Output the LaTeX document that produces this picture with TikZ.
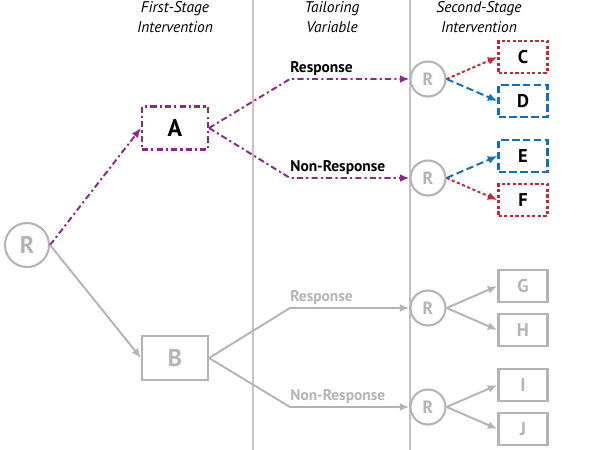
\documentclass[tikz,border=0pt]{standalone}
\usepackage{fontspec}
\setmainfont{PT Sans}
\usetikzlibrary{arrows, arrows.meta}
\usetikzlibrary{calc}

\definecolor{smartpurple}{RGB}{142,38,140}
\definecolor{smartred}{RGB}{200,38,48}
\definecolor{smartblue}{RGB}{16,112,184}
\definecolor{smartgray}{RGB}{180,180,180}
\definecolor{rulegray}{RGB}{196,196,196}

\begin{document}
\begin{tikzpicture}[x=0.02cm, y=-0.02cm,
    rand/.style={circle, draw=smartgray, line width=1.2pt, text=smartgray, inner sep=0pt, font=\bfseries},
    arm/.style={rectangle, draw, line width=1.2pt, inner sep=0pt, font=\bfseries},
    head/.style={align=center, font=\fontsize{8.8}{11}\selectfont\itshape},
    resp/.style={anchor=south west, inner xsep=0pt, inner ysep=1.5pt, font=\fontsize{8.8}{10}\selectfont\bfseries},
    tip/.style={-{Latex[length=5.5pt, width=4.5pt]}, line width=1.1pt},
    purple dash/.style={smartpurple, dash pattern=on 3.5pt off 1.8pt on 1.2pt off 1.8pt},
    red dash/.style={smartred, dash pattern=on 1.8pt off 1.4pt},
    blue dash/.style={smartblue, dash pattern=on 4.2pt off 2pt},
    gray line/.style={smartgray}]
  \useasboundingbox (0,0) rectangle (600,450);

  % stage columns
  \draw[rulegray, line width=0.9pt] (253,0) -- (253,450);
  \draw[rulegray, line width=0.9pt] (410,0) -- (410,450);
  \node[head] (h1) at (175,17) {First-Stage\\Intervention};
  \node[head] (h2) at (332,17) {Tailoring\\Variable};
  \node[head] (h3) at (479,17) {Second-Stage\\Intervention};

  % first randomisation
  \node[rand, minimum size=0.88cm, font=\fontsize{13.7}{14}\selectfont\bfseries] (r0) at (27,245) {R};
  \node[arm, purple dash, text=black, minimum width=1.32cm, minimum height=0.86cm, font=\fontsize{13.7}{14}\selectfont\bfseries] (A) at (175,128) {A};
  \node[arm, draw=smartgray, text=smartgray, minimum width=1.32cm, minimum height=0.88cm, font=\fontsize{13.7}{14}\selectfont\bfseries] (B) at (175,358) {B};

  % second randomisations
  \node[rand, minimum size=0.70cm, font=\fontsize{10}{10}\selectfont\bfseries] (r1) at (428,79) {R};
  \node[rand, minimum size=0.70cm, font=\fontsize{10}{10}\selectfont\bfseries] (r2) at (428,178) {R};
  \node[rand, minimum size=0.70cm, font=\fontsize{10}{10}\selectfont\bfseries] (r3) at (428,308) {R};
  \node[rand, minimum size=0.70cm, font=\fontsize{10}{10}\selectfont\bfseries] (r4) at (428,407) {R};

  % second-stage arms
  \node[arm, red dash, text=black, minimum width=0.98cm, minimum height=0.64cm, font=\fontsize{10.5}{11}\selectfont\bfseries] (C) at (523,57) {C};
  \node[arm, blue dash, text=black, minimum width=0.98cm, minimum height=0.64cm, font=\fontsize{10.5}{11}\selectfont\bfseries] (D) at (523,101) {D};
  \node[arm, blue dash, text=black, minimum width=0.98cm, minimum height=0.64cm, font=\fontsize{10.5}{11}\selectfont\bfseries] (E) at (523,156) {E};
  \node[arm, red dash, text=black, minimum width=0.98cm, minimum height=0.64cm, font=\fontsize{10.5}{11}\selectfont\bfseries] (F) at (523,200) {F};
  \node[arm, draw=smartgray, text=smartgray, minimum width=0.98cm, minimum height=0.64cm, font=\fontsize{10.5}{11}\selectfont\bfseries] (G) at (523,286) {G};
  \node[arm, draw=smartgray, text=smartgray, minimum width=0.98cm, minimum height=0.64cm, font=\fontsize{10.5}{11}\selectfont\bfseries] (H) at (523,330) {H};
  \node[arm, draw=smartgray, text=smartgray, minimum width=0.98cm, minimum height=0.64cm, font=\fontsize{10.5}{11}\selectfont\bfseries] (I) at (523,385) {I};
  \node[arm, draw=smartgray, text=smartgray, minimum width=0.98cm, minimum height=0.64cm, font=\fontsize{10.5}{11}\selectfont\bfseries] (J) at (523,429) {J};

  % tailoring bends
  \coordinate (a1) at (290,79);
  \coordinate (a2) at (290,178);
  \coordinate (b1) at (290,308);
  \coordinate (b2) at (290,407);
  \node[resp] (la1) at (a1) {Response};
  \node[resp] (la2) at (a2) {Non-Response};
  \node[resp, text=smartgray] (lb1) at (b1) {Response};
  \node[resp, text=smartgray] (lb2) at (b2) {Non-Response};

  \draw[tip, purple dash] (r0.east) -- (A.west);
  \draw[tip, gray line] (r0.east) -- (B.west);
  \draw[tip, purple dash] (A.east) -- (a1) -- (r1);
  \draw[tip, purple dash] (A.east) -- (a2) -- (r2);
  \draw[tip, gray line] (B.east) -- (b1) -- (r3);
  \draw[tip, gray line] (B.east) -- (b2) -- (r4);

  \draw[tip, red dash] (r1.east) -- (C.west);
  \draw[tip, blue dash] (r1.east) -- (D.west);
  \draw[tip, blue dash] (r2.east) -- (E.west);
  \draw[tip, red dash] (r2.east) -- (F.west);
  \draw[tip, gray line] (r3.east) -- (G.west);
  \draw[tip, gray line] (r3.east) -- (H.west);
  \draw[tip, gray line] (r4.east) -- (I.west);
  \draw[tip, gray line] (r4.east) -- (J.west);
\end{tikzpicture}
\end{document}
